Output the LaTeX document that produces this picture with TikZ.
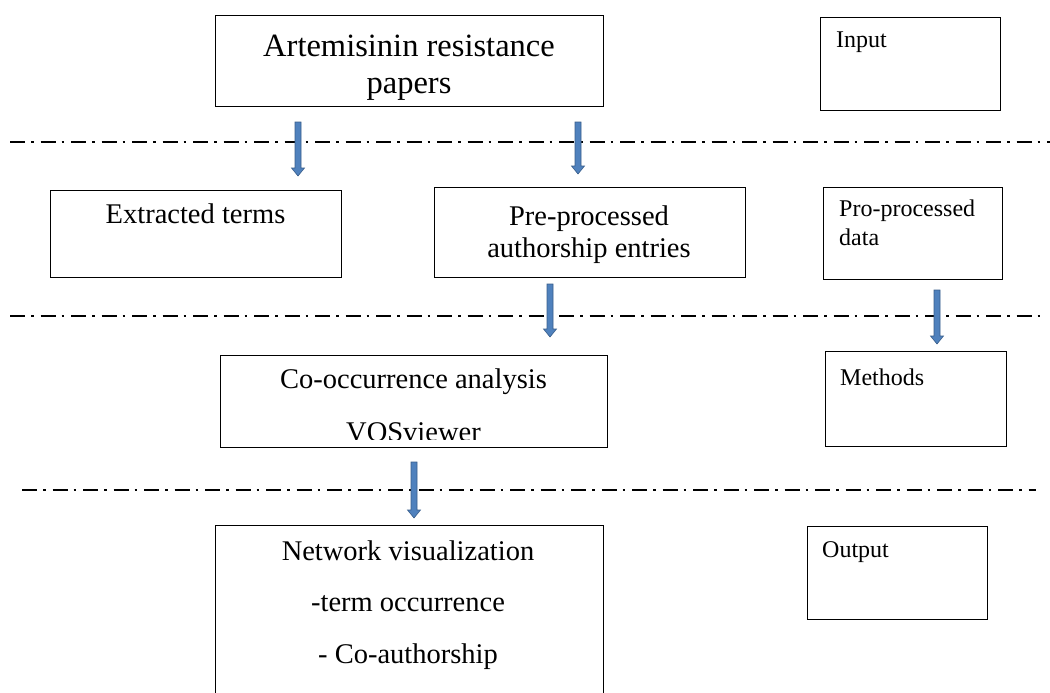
\documentclass[tikz,border=0pt]{standalone}
\usepackage{fontspec}
\setmainfont{Liberation Serif}
\usetikzlibrary{calc}
\definecolor{arrfill}{RGB}{79,129,189}
\definecolor{arrline}{RGB}{56,93,138}
\tikzset{
  box/.style={draw=black, line width=1.3pt, rectangle, inner sep=0pt, anchor=north west},
  sepline/.style={draw=black, line width=1.8pt, dash pattern=on 15pt off 6pt on 2.5pt off 7pt},
  blockarr/.style={fill=arrfill, draw=arrline, line width=0.6pt},
  bigtxt/.style={font=\fontsize{32.5}{36}\selectfont, anchor=base, inner sep=0pt},
  midtxt/.style={font=\fontsize{28.5}{33}\selectfont, anchor=base, inner sep=0pt},
  smalltxt/.style={font=\fontsize{24}{29}\selectfont, anchor=base west, inner sep=0pt},
}
\newcommand{\blkarrow}[2]{%
  \draw[blockarr] ($(#1)+(-3,0)$) -- ($(#2)+(-3,-8)$) -- ($(#2)+(-6.5,-8)$) -- (#2)
    -- ($(#2)+(6.5,-8)$) -- ($(#2)+(3,-8)$) -- ($(#1)+(3,0)$) -- cycle;}
\begin{document}
\begin{tikzpicture}[x=1pt,y=-1pt]
\useasboundingbox (0,0) rectangle (1050,693);
% boxes
\node[box, minimum width=388pt, minimum height=91pt] (art) at (215,15) {};
\node[bigtxt] (artt1) at (409,57) {Artemisinin resistance};
\node[bigtxt] (artt2) at (409,93) {papers};
\node[box, minimum width=180pt, minimum height=93pt] (inp) at (820,17) {};
\node[smalltxt] (inpt) at (836,48) {Input};

\node[box, minimum width=291pt, minimum height=87pt] (ext) at (50,190) {};
\node[midtxt] (extt) at (195.5,223) {Extracted terms};
\node[box, minimum width=311pt, minimum height=90pt] (pre) at (434,187) {};
\node[midtxt] (pret1) at (589,225) {Pre-processed};
\node[midtxt] (pret2) at (589,257) {authorship entries};
\node[box, minimum width=179pt, minimum height=92pt] (ppd) at (823,187) {};
\node[smalltxt] (ppdt1) at (839,216) {Pro-processed};
\node[smalltxt] (ppdt2) at (839,245) {data};

\node[box, minimum width=387pt, minimum height=92pt] (coo) at (220,355) {};
\node[midtxt] (coot1) at (413.5,388) {Co-occurrence analysis};
\begin{scope}
\clip (220,355) rectangle (607,439);
\node[midtxt] (coot2) at (413.5,441) {VOSviewer};
\end{scope}
\node[box, minimum width=181pt, minimum height=95pt] (met) at (825,351) {};
\node[smalltxt] (mett) at (840,385) {Methods};

\node[box, minimum width=388pt, minimum height=180pt] (net) at (215,525) {};
\node[midtxt] (nett1) at (408,560) {Network visualization};
\node[midtxt] (nett2) at (408,611) {-term occurrence};
\node[midtxt] (nett3) at (408,663) {- Co-authorship};
\node[box, minimum width=180pt, minimum height=93pt] (out) at (807,526) {};
\node[smalltxt] (outt) at (822,557) {Output};

% separator lines
\coordinate (s1a) at (10,142); \coordinate (s1b) at (1050,142);
\coordinate (s2a) at (10,316); \coordinate (s2b) at (1046,316);
\coordinate (s3a) at (22,490); \coordinate (s3b) at (1036,490);
\draw[sepline] (s1a) -- (s1b);
\draw[sepline] (s2a) -- (s2b);
\draw[sepline] (s3a) -- (s3b);

% arrows
\coordinate (a1s) at (298,122); \coordinate (a1e) at (298,176);
\coordinate (a2s) at (578,122); \coordinate (a2e) at (578,174);
\coordinate (a3s) at (550,284); \coordinate (a3e) at (550,337);
\coordinate (a4s) at (937,290); \coordinate (a4e) at (937,344);
\coordinate (a5s) at (414,462); \coordinate (a5e) at (414,518);
\blkarrow{a1s}{a1e}
\blkarrow{a2s}{a2e}
\blkarrow{a3s}{a3e}
\blkarrow{a4s}{a4e}
\blkarrow{a5s}{a5e}
\end{tikzpicture}
\end{document}
